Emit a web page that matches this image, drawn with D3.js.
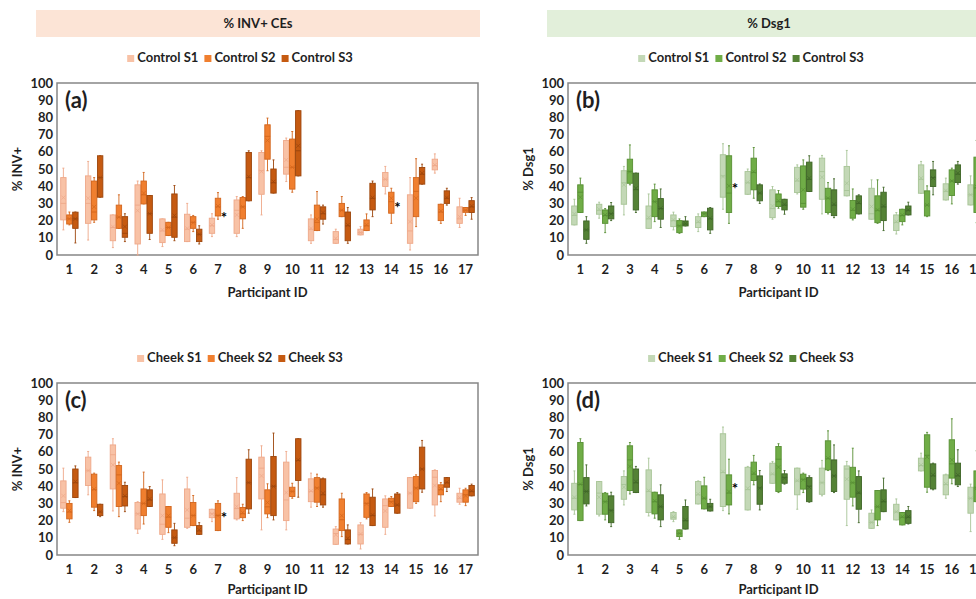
<!DOCTYPE html>
<html>
<head>
<meta charset="utf-8">
<script src="https://cdn.jsdelivr.net/npm/d3@7"></script>
<style>
  body { margin: 0; overflow: hidden; background: #fff; }
  svg text { font-family: Lato, "Open Sans", sans-serif; font-weight: bold; fill: #1f1f1f; }
</style>
</head>
<body>
<svg></svg>
<script>
(function (d3) {
  'use strict';

  const participants = d3.range(1, 18).map(String);
  const yTicks = d3.range(0, 101, 10);

  // each row: [low whisker, q1, median, q3, high whisker, mean]; null = no sample
  const invControlS1 = [
    [14.6, 20.4, 30, 45, 50.5, 33.4], [8.7, 18.4, 30, 46, 54.4, 33], [4.3, 8.3, 16, 23.3, 23.3, 16.5],
    [0, 6.4, 29, 40.8, 43, 25.8], [4.9, 7.2, 14, 21, 21, 14.6], [7.8, 7.8, 15, 23.7, 30, 15.5],
    [10.7, 12.6, 17, 21.4, 24, 17.5], [10.7, 12.6, 26, 32, 34, 23.3], [23.3, 35.3, 49, 59.6, 60.6, 48.5],
    [42.7, 47, 51, 66.6, 68, 55.3], [6.8, 8.3, 15, 21, 23.3, 15.5], [6.8, 6.8, 9, 13.6, 15, 9.7],
    [11.7, 11.7, 13, 15, 16.5, 13], [35.5, 39.8, 44, 48, 51.5, 44], [2.9, 6.8, 14, 35, 45, 19.4],
    [47.6, 49.5, 52, 55.7, 58.8, 52.4], [16, 18.4, 21, 28, 33, 22.3]
  ];
  const invControlS2 = [
    [17.5, 18, 21, 23.3, 25, 21], [19, 20.4, 25, 43, 45, 28], [15.5, 15.5, 22, 29, 35, 22],
    [29.7, 29.7, 35, 43, 48, 36], [11.3, 11.3, 16, 19, 19, 16], [13.6, 15.5, 19, 22.3, 23, 18.8],
    [20.8, 22.7, 28, 33, 36.3, 28.5], [15.5, 21, 28, 33.4, 34, 28], [49, 55.7, 69, 75.7, 79.6, 66.6],
    [36.5, 38.3, 51, 67.4, 71.8, 51], [14.2, 14.2, 19, 29, 36.9, 20.8], [22.3, 22.3, 26, 30, 34, 26],
    [14.2, 14.2, 17, 20.4, 23.9, 17.5], [18.4, 24.3, 31, 36.5, 38.8, 33], [16.5, 22.3, 37, 45, 56, 33],
    [18.4, 20, 25, 29.5, 29.5, 25.6], [23, 24.8, 26, 27.6, 27.6, 26]
  ];
  const invControlS3 = [
    [7, 15.5, 21, 24.9, 25, 21], [33.6, 33.6, 45, 57.7, 57.7, 45], [7.8, 10.3, 12.6, 22.3, 24, 16.5],
    [9, 12.6, 24, 34.6, 34.6, 24], [8.3, 10.3, 22, 35.5, 40.4, 23], [6.4, 7.8, 12, 15, 17, 12],
    null, [31.5, 31.5, 45, 59.6, 60.6, 45.6], [36, 36, 42, 50, 55.3, 42.7],
    [46, 46, 60.6, 83.9, 83.9, 63.5], [18, 20.8, 24, 28, 29, 24.7], [6.8, 8.3, 17, 25, 27.6, 17.5],
    [22.3, 26.2, 33, 41.7, 43, 33.4], null, [41.2, 41.2, 47, 50.9, 52.8, 47.6],
    [29, 30, 33, 37.3, 38.8, 33.4], [20.8, 24.7, 28, 31.6, 33.4, 28.5]
  ];

  const dsgControlS1 = [
    [17.5, 17.5, 23, 28.5, 32.4, 23.9], [21.4, 23.7, 26, 29.5, 30.7, 26.6], [23.3, 29.5, 42, 49, 51.5, 40.8],
    [15.5, 15.5, 21, 28.5, 35.5, 21.9], [14.6, 16.5, 20, 23.3, 24.9, 20.4], [13.6, 16, 19, 22.3, 23.9, 19.4],
    [26.6, 33.6, 46, 58.3, 64.7, 45.6], [35.3, 35.3, 42, 48.5, 50, 42.3], [20.8, 21.7, 27, 37.9, 39.8, 28.5],
    [35.5, 36.3, 43, 51, 52.4, 43.7], [23.9, 32.4, 48.5, 56.3, 57.9, 45.2], [34.4, 34.4, 37.5, 51.5, 60.8, 41.7],
    [20.8, 20.8, 24, 38.8, 43.7, 28.2], [12.2, 14.2, 19, 23.3, 24.7, 19.4], [35.9, 35.9, 44, 52.4, 54.4, 44.7],
    [32, 32, 37, 41.4, 44.7, 37.5], [29.1, 29.1, 35, 40.8, 46, 35]
  ];
  const dsgControlS2 = [
    [24.7, 24.7, 36.5, 40.8, 44.7, 33.6], [13, 18.4, 23, 26.2, 27, 23.3], [40.8, 41.7, 48.5, 55.7, 64, 48.5],
    [19.4, 22.3, 31, 37.9, 41.2, 31], [12.6, 13, 17, 20, 21, 16.9], [22.3, 22.3, 24, 25, 25, 23.9],
    [18.4, 24.7, 36, 57.7, 63.5, 40.2], [33, 37.9, 48, 56.3, 62.5, 48.5], [27.2, 28.2, 31, 35.5, 37.5, 31.5],
    [26.6, 27.8, 30, 51.8, 55.3, 37.9], [23.9, 24.7, 33, 38.8, 42.1, 33], [20.4, 21.4, 26, 31.7, 38.4, 26.6],
    [18.4, 18.8, 26, 34.4, 43.7, 26.2], [17.5, 19.4, 23, 26.6, 26.6, 23.3], [22.3, 22.7, 29, 37.3, 40.2, 29.1],
    [29.7, 34.6, 43, 49.5, 50.5, 43.1], [18.8, 24.7, 39, 56.9, 66.6, 39.8]
  ];
  const dsgControlS3 = [
    [6.8, 9.1, 14.6, 19.8, 22.3, 14.6], [20, 21, 24, 28.5, 30.5, 23.9], [24.7, 26.2, 38, 47.6, 47.6, 38.8],
    [16, 20.8, 27, 32.8, 38.4, 27.2], [16.9, 16.9, 18, 19.8, 22.3, 18.4], [12.6, 14.6, 21, 27.2, 27.6, 21.4],
    null, [30, 31.5, 36, 40.8, 41.3, 36], [23.7, 26.2, 29, 32.4, 32.4, 29.5],
    [36.9, 36.9, 44, 54, 57.7, 44.7], [21.7, 22.9, 29, 37.9, 44.3, 29.5], [23.9, 23.9, 30, 34.4, 35, 30.5],
    [14.2, 20, 28, 36.5, 39.4, 28.5], [23.3, 23.3, 26, 28.5, 30.7, 26.2], [35, 39.8, 45, 49.5, 54.4, 44.7],
    [41.2, 42.1, 47, 52.4, 54.4, 47.6], [30, 33, 38, 44, 50, 38]
  ];

  const invCheekS1 = [
    [25.2, 27.2, 30.5, 43.1, 50.5, 34.4], [35, 40.4, 49, 56.9, 60.2, 49.1], [25.6, 38.4, 58.3, 64, 67.6, 52.4],
    [12.6, 15.1, 24, 30.5, 31, 23.9], [9.1, 12, 17.9, 35.5, 43.7, 22.9], [15.5, 16.1, 21.4, 38.4, 45.2, 26.2],
    [19.4, 21.7, 24, 26.6, 26.6, 23.9], [20.4, 21, 27, 35.9, 45, 28.2], [14.6, 32.6, 50.5, 56.9, 63.5, 46],
    [14.6, 20, 32, 54, 60.2, 36.3], [27.8, 31, 37, 44.3, 47.6, 37.3], [6.2, 6.2, 12.5, 15.1, 16.5, 11.7],
    [3.5, 6.4, 12, 17.5, 18.8, 12.2], [12, 16.1, 28.7, 32.6, 34.4, 25.6], [27.2, 27.2, 36, 45, 45, 35.9],
    [22.7, 29.1, 45.2, 49.1, 49.5, 40.4], [29.5, 30.7, 33, 35.9, 38.8, 33.4]
  ];
  const invCheekS2 = [
    [19, 21, 25, 30, 31.5, 25.8], [25.8, 27.8, 38, 47, 47.6, 38.3], [22.3, 28.2, 46.6, 52, 54, 41.7],
    [18, 22.9, 30, 38.4, 48.2, 30], [13, 16.1, 22, 28.2, 28.2, 22.9], [17.1, 17.1, 23, 30.5, 34.6, 22.9],
    [14.2, 14.2, 23, 30, 31.5, 22.9], [20, 21.7, 24, 27.6, 29.5, 24.7], [21.7, 23.9, 28, 37.9, 41.4, 30.5],
    [33, 34, 37, 39.4, 41.7, 36.9], [28.2, 30.7, 39, 45, 47, 38.8], [10.7, 14.2, 20.5, 32.6, 35.9, 22.9],
    [21, 21.9, 30, 35.5, 36.3, 29.7], [28.2, 28.2, 31, 33, 34, 30.7], [30, 31, 39, 45.6, 46.6, 38.8],
    [31, 35, 38, 40.8, 42.1, 38.4], [28.7, 30.7, 35, 37.9, 38.8, 34.4]
  ];
  const invCheekS3 = [
    [33.4, 33.4, 42, 50, 51.8, 42.7], [22.3, 22.9, 25, 29.5, 29.5, 25.2], [25.2, 28.5, 34, 40.4, 42.3, 34.4],
    [28.2, 28.2, 32, 37.9, 39.8, 32.6], [5.4, 6.8, 10, 14.6, 18.4, 10.1], [12, 12, 14, 17.1, 18.8, 14.6],
    null, [24.3, 26.8, 42, 55.7, 61.2, 42.1], [20.4, 22.9, 40, 57.3, 70.9, 39.8],
    [33.6, 43.3, 55, 67.6, 67.6, 55.3], [27.8, 29.1, 35, 44.3, 44.7, 35.9], [6.4, 6.4, 9, 14.6, 17.5, 9.7],
    [17.1, 17.1, 23, 33.6, 38.4, 23.3], [24.3, 24.3, 29, 35.5, 36.3, 29.1], [36.5, 38.4, 50, 62.7, 66.6, 49.9],
    [36.9, 39.4, 42, 45, 45, 42.3], [34.4, 34.4, 37, 40.4, 41.2, 37.3]
  ];

  const dsgCheekS1 = [
    [23.7, 26.2, 33, 41.7, 48.9, 33.6], [22.7, 23.7, 36, 42.7, 42.7, 33.6], [29.1, 32.4, 41, 45.6, 48.9, 39.4],
    [22.7, 24.7, 37, 49.5, 56.3, 37.5], [19.4, 20.8, 22, 24.7, 25.2, 22.3], [29.7, 29.7, 35, 42.7, 43.1, 35.5],
    [25.8, 28.2, 48, 70.5, 74.4, 48.5], [26.2, 26.2, 38, 51, 51.5, 38.8], [41.7, 41.7, 47, 53.4, 54.4, 47.2],
    [26.6, 35, 43, 50.5, 50.5, 43.3], [34.4, 35.3, 42, 50.5, 55, 42.1], [17.1, 32.4, 50, 51.8, 54.4, 44.1],
    [15.5, 15.5, 19, 24.3, 26.2, 19], [20.4, 20.4, 25, 29.5, 32.6, 25.2], [48.9, 48.9, 52, 56.3, 59.2, 52.4],
    [33, 35, 41, 46.6, 47, 41.4], [13.6, 24.3, 33, 39.4, 41.2, 33]
  ];
  const dsgCheekS2 = [
    [20, 20, 41, 65.4, 67.6, 41.2], [20.4, 23.7, 31, 35.9, 36.3, 31], [35.5, 37.5, 55.3, 63.5, 65.4, 51.5],
    [21.4, 23.9, 31, 36.5, 36.5, 31.5], [9.1, 10.7, 12.6, 14.6, 14.6, 12.6], [26.8, 26.8, 33, 40.2, 45.2, 33],
    [23.9, 29.1, 36, 46.6, 55.7, 36.9], [40.8, 43.3, 47, 54, 57.9, 47.6], [36.3, 36.9, 55.7, 63.1, 64.7, 51.1],
    [36.3, 38.3, 44, 47, 47.6, 43.7], [49.1, 49.5, 56, 66.4, 72.2, 56.3], [28.5, 33.6, 42, 51, 62.1, 42.1],
    [17.1, 20.4, 28, 37.5, 37.5, 28.2], [17.5, 17.5, 22, 24.7, 24.7, 22.3], [36.5, 39.4, 58, 69.9, 71.3, 56.9],
    [41.4, 44.7, 53, 67, 79.2, 55.3], [31, 31, 39, 48.9, 60.6, 38.8]
  ];
  const dsgCheekS3 = [
    [28.5, 29.7, 37, 45, 52.4, 36.9], [16.5, 18.8, 26, 34.4, 36.5, 25.8], [36.3, 36.3, 42, 50, 51.5, 42.7],
    [16.5, 20.4, 28, 35, 40.8, 28.2], [15.1, 15.1, 20, 28.2, 32, 20.4], [25.6, 25.6, 28, 30, 32.4, 28.2],
    null, [26.2, 29.5, 39, 46, 49.1, 38.8], [41.2, 41.7, 45, 47.2, 49.1, 44.7],
    [30.7, 31, 40, 45, 46, 39.4], [36.3, 36.9, 46, 55.3, 64, 46], [18.8, 26.6, 36, 45.6, 48.9, 36.3],
    [25.2, 25.2, 31, 37.9, 44.7, 31.5], [18, 18.4, 22, 25.8, 28.2, 22.3], [37.9, 38.4, 46, 53, 53.4, 46.6],
    [39.8, 40.8, 46, 53.4, 61.2, 46.6], [30, 33, 40, 46, 52, 40]
  ];

  // asterisks (significance marks) next to the missing third box
  const invControlStars = [{ p: '7', v: 23.5 }, { p: '14', v: 29 }];
  const dsgControlStars = [{ p: '7', v: 40 }];
  const invCheekStars = [{ p: '7', v: 23 }];
  const dsgCheekStars = [{ p: '7', v: 40 }];

  const controlNames = ['Control S1', 'Control S2', 'Control S3'];
  const cheekNames = ['Cheek S1', 'Cheek S2', 'Cheek S3'];

  const orangeFill = ['#f8c2a6', '#f07f2f', '#c55a11'];
  const orangeLine = ['#eea889', '#d2651c', '#9c450b'];
  const greenFill = ['#c3d8b6', '#70ad47', '#548235'];
  const greenLine = ['#a7c496', '#578f33', '#3e6526'];

  const svg = d3.select('svg')
      .attr('width', 1000)
      .attr('height', 599);

  const frame = { left: 57, right: 478, top: 83, bottom: 255 };

  const x = d3.scaleBand().domain(participants).range([frame.left, frame.right]);
  const xs = d3.scaleBand().domain([0, 1, 2]).range([-8.7, 8.7]).paddingInner(0.1);
  const y = d3.scaleLinear().domain([0, 100]).range([frame.bottom, frame.top]);

  function drawPanel(ox, oy, p) {
    const g = svg.append('g').attr('transform', `translate(${ox},${oy})`);

    if (p.header) {
      g.append('rect')
          .attr('x', 36).attr('y', 10)
          .attr('width', 444).attr('height', 27)
          .attr('fill', p.headerFill);
      g.append('text')
          .attr('x', 258).attr('y', 28)
          .attr('text-anchor', 'middle')
          .style('font-size', '13px')
          .text(p.header);
    }

    // legend, centred over the chart area
    const lg = g.append('g');
    let lx = 0;
    p.names.forEach((name, i) => {
      lg.append('rect')
          .attr('x', lx).attr('y', -7)
          .attr('width', 7).attr('height', 7)
          .attr('fill', p.fills[i]);
      const t = lg.append('text')
          .attr('x', lx + 10).attr('y', 0)
          .style('font-size', '13px')
          .text(name);
      lx += 10 + t.node().getComputedTextLength() + 6;
    });
    lg.attr('transform', `translate(${240 - (lx - 6) / 2},${62})`);

    g.append('rect')
        .attr('x', frame.left).attr('y', frame.top)
        .attr('width', frame.right - frame.left)
        .attr('height', frame.bottom - frame.top)
        .attr('fill', 'none')
        .attr('stroke', '#868686')
        .attr('stroke-width', 1.5);

    const yAxis = g.append('g')
        .attr('transform', `translate(${frame.left},0)`)
        .call(d3.axisLeft(y).tickValues(yTicks).tickSize(0).tickPadding(4));
    yAxis.select('.domain').remove();
    yAxis.selectAll('text').style('font-size', '13px');

    const xAxis = g.append('g')
        .attr('transform', `translate(0,${frame.bottom})`)
        .call(d3.axisBottom(x).tickSize(0).tickPadding(10));
    xAxis.select('.domain').remove();
    xAxis.selectAll('text').style('font-size', '13px');

    g.append('text')
        .attr('x', (frame.left + frame.right) / 2)
        .attr('y', p.titleY)
        .attr('text-anchor', 'middle')
        .style('font-size', '13px')
        .text('Participant ID');

    g.append('text')
        .attr('transform', `translate(22,${(frame.top + frame.bottom) / 2}) rotate(-90)`)
        .attr('text-anchor', 'middle')
        .style('font-size', '13px')
        .text(p.yLabel);

    g.append('text')
        .attr('x', 65).attr('y', 108)
        .style('font-size', '22px')
        .text(p.tag);

    const bw = xs.bandwidth();
    p.series.forEach((data, si) => {
      const rows = data
        .map((v, i) => v && { id: participants[i], v })
        .filter(Boolean);
      const sg = g.append('g')
          .attr('stroke', p.lines[si])
          .attr('stroke-width', 0.9);
      const cx = d => x(d.id) + x.bandwidth() / 2 + xs(si) + bw / 2;

      sg.selectAll('.whisker').data(rows).enter().append('path')
          .attr('class', 'whisker')
          .attr('d', d => `M${cx(d)},${y(d.v[0])}V${y(d.v[1])}M${cx(d)},${y(d.v[3])}V${y(d.v[4])}` +
            `M${cx(d) - 1},${y(d.v[0])}H${cx(d) + 1}M${cx(d) - 1},${y(d.v[4])}H${cx(d) + 1}`);

      sg.selectAll('.box').data(rows).enter().append('rect')
          .attr('class', 'box')
          .attr('x', d => cx(d) - bw / 2)
          .attr('y', d => y(d.v[3]))
          .attr('width', bw)
          .attr('height', d => Math.max(1, y(d.v[1]) - y(d.v[3])))
          .attr('fill', p.fills[si]);

      sg.selectAll('.median').data(rows).enter().append('path')
          .attr('class', 'median')
          .attr('d', d => `M${cx(d) - bw / 2},${y(d.v[2])}H${cx(d) + bw / 2}`);

      sg.selectAll('.mean').data(rows).enter().append('path')
          .attr('class', 'mean')
          .attr('stroke-width', 0.7)
          .attr('d', d => {
            const m = y(d.v[5]);
            const c = cx(d);
            return `M${c - 2},${m - 2}L${c + 2},${m + 2}M${c - 2},${m + 2}L${c + 2},${m - 2}`;
          });
    });

    g.selectAll('.star').data(p.stars).enter().append('text')
        .attr('class', 'star')
        .attr('x', d => x(d.p) + x.bandwidth() / 2 + xs(2) + bw / 2)
        .attr('y', d => y(d.v) + 8)
        .attr('text-anchor', 'middle')
        .style('font-size', '15px')
        .style('fill', '#000')
        .text('*');
  }

  drawPanel(0, 0, {
    header: '% INV+ CEs', headerFill: '#fce4d6', names: controlNames,
    fills: orangeFill, lines: orangeLine, yLabel: '% INV+', tag: '(a)', titleY: 297,
    series: [invControlS1, invControlS2, invControlS3], stars: invControlStars
  });
  drawPanel(511, 0, {
    header: '% Dsg1', headerFill: '#e2efda', names: controlNames,
    fills: greenFill, lines: greenLine, yLabel: '% Dsg1', tag: '(b)', titleY: 297,
    series: [dsgControlS1, dsgControlS2, dsgControlS3], stars: dsgControlStars
  });
  drawPanel(0, 300, {
    header: null, names: cheekNames,
    fills: orangeFill, lines: orangeLine, yLabel: '% INV+', tag: '(c)', titleY: 294,
    series: [invCheekS1, invCheekS2, invCheekS3], stars: invCheekStars
  });
  drawPanel(511, 300, {
    header: null, names: cheekNames,
    fills: greenFill, lines: greenLine, yLabel: '% Dsg1', tag: '(d)', titleY: 294,
    series: [dsgCheekS1, dsgCheekS2, dsgCheekS3], stars: dsgCheekStars
  });

}(d3));
</script>
</body>
</html>
